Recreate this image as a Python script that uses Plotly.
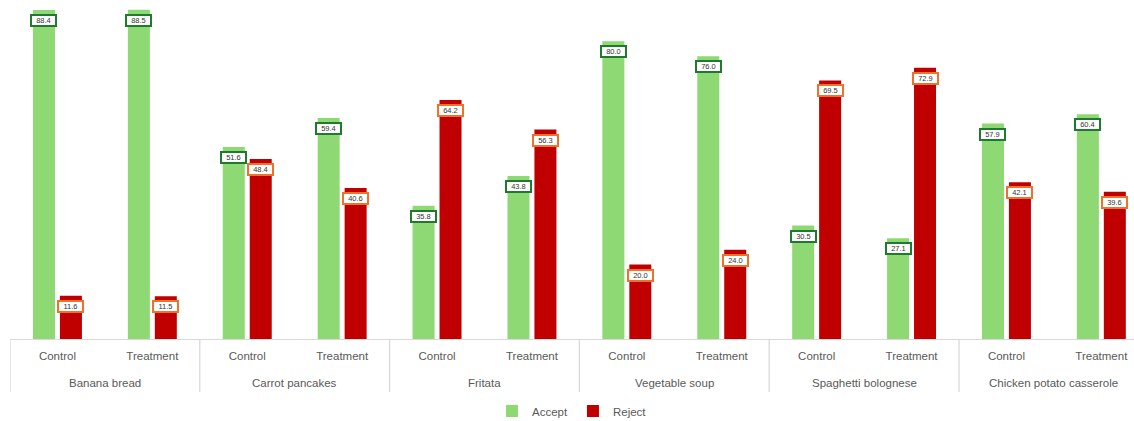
import plotly.graph_objects as go

# Dishes and the two study arms
dishes = ["Banana bread", "Carrot pancakes", "Fritata", "Vegetable soup",
          "Spaghetti bolognese", "Chicken potato casserole"]
arms = ["Control", "Treatment"]

# Percentage of portions accepted / rejected, ordered dish by dish (Control, Treatment)
accept = [88.4, 88.5, 51.6, 59.4, 35.8, 43.8, 80.0, 76.0, 30.5, 27.1, 57.9, 60.4]
reject = [11.6, 11.5, 48.4, 40.6, 64.2, 56.3, 20.0, 24.0, 69.5, 72.9, 42.1, 39.6]

GREEN = "#8ED973"
RED = "#C00000"
GREEN_EDGE = "#1E7B2E"
ORANGE_EDGE = "#F0712B"
AXIS_GREY = "#D9D9D9"
TEXT_GREY = "#595959"
FONT = "Liberation Sans"

positions = list(range(len(accept)))
tick_text = [arm for _ in dishes for arm in arms]
OFFSET = 0.142
BAR_W = 0.232

fig = go.Figure()
fig.add_bar(name="Accept", x=[p - OFFSET for p in positions], y=accept,
            width=BAR_W, marker=dict(color=GREEN, line=dict(width=0)))
fig.add_bar(name="Reject", x=[p + OFFSET for p in positions], y=reject,
            width=BAR_W, marker=dict(color=RED, line=dict(width=0)))

annotations = []
# Value call-outs sitting just inside the top of each bar
for series, sign, edge in ((accept, -1, GREEN_EDGE), (reject, 1, ORANGE_EDGE)):
    for p, v in zip(positions, series):
        annotations.append(dict(
            x=p + sign * OFFSET, y=v, xref="x", yref="y",
            text=f"{v:.1f}", showarrow=False, yanchor="top", yshift=-4,
            font=dict(family=FONT, size=7.5, color="#333333"),
            bgcolor="white", bordercolor=edge, borderwidth=2, borderpad=1,
            width=21, height=7,
        ))

# Dish names under each pair of arms
for g, dish in enumerate(dishes):
    annotations.append(dict(
        x=2 * g + 0.5, y=0, xref="x", yref="paper", yshift=-44,
        text=dish, showarrow=False, yanchor="middle",
        font=dict(family=FONT, size=11.5, color=TEXT_GREY),
    ))

# Group dividers running down through the category labels
shapes = []
for g in range(len(dishes) + 1):
    shapes.append(dict(
        type="line", xref="x", yref="paper",
        x0=2 * g - 0.5, x1=2 * g - 0.5, y0=0, y1=-53 / 339,
        line=dict(color=AXIS_GREY, width=1.3),
    ))

fig.update_layout(
    width=1134, height=421,
    margin=dict(l=10, r=0, t=0, b=82, autoexpand=False),
    paper_bgcolor="white", plot_bgcolor="white",
    barmode="overlay",
    showlegend=True,
    legend=dict(orientation="h", x=0.5, xanchor="center",
                yref="container", y=10 / 421, yanchor="middle",
                font=dict(family=FONT, size=11.5, color=TEXT_GREY),
                itemwidth=30, tracegroupgap=0),
    annotations=annotations,
    shapes=shapes,
    font=dict(family=FONT, color=TEXT_GREY),
)
fig.update_xaxes(
    range=[-0.5, -0.5 + 1124 / 94.9],
    tickvals=positions, ticktext=tick_text,
    tickfont=dict(family=FONT, size=11.5, color=TEXT_GREY),
    ticks="", ticklabelstandoff=6,
    showline=True, linecolor=AXIS_GREY, linewidth=1.3,
    showgrid=False, zeroline=False,
)
fig.update_yaxes(range=[0, 91.1], visible=False, showgrid=False, zeroline=False)

fig.write_html("out.html")
